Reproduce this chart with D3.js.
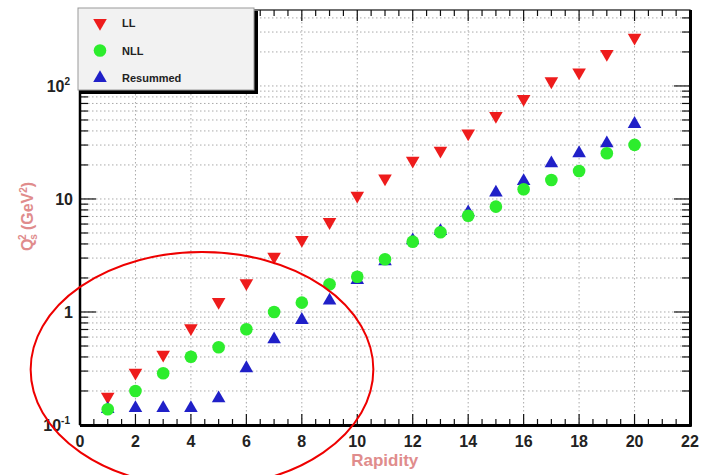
<!DOCTYPE html>
<html>
<head>
<meta charset="utf-8">
<script src="https://cdn.jsdelivr.net/npm/d3@7"></script>
<style>
  html, body { margin: 0; padding: 0; background: #fff; }
  svg { display: block; font-family: "Liberation Sans", Arial, sans-serif; }
</style>
</head>
<body>
<div id="chart"></div>
<script>
// rapidity values
const rapidity = [1, 2, 3, 4, 5, 6, 7, 8, 9, 10, 11, 12, 13, 14, 15, 16, 17, 18, 19, 20];

// Q_s^2 (GeV^2) per series
const llValues = [0.178, 0.29, 0.42, 0.72, 1.23, 1.8, 3.08, 4.35, 6.25, 10.7, 15.2, 21.8, 26.8, 38.1, 54.3, 76.7, 110, 132, 192, 267];
const nllValues = [0.138, 0.2, 0.287, 0.402, 0.487, 0.703, 1.0, 1.21, 1.76, 2.05, 2.93, 4.19, 5.07, 7.11, 8.55, 12.2, 14.7, 17.7, 25.4, 30.1];
const resummedValues = [0.138, 0.141, 0.141, 0.141, 0.172, 0.318, 0.573, 0.85, 1.26, 1.92, 2.8, 4.3, 5.2, 7.6, 11.4, 14.4, 20.7, 25.4, 31.1, 46.1];

const xTicks = [0, 2, 4, 6, 8, 10, 12, 14, 16, 18, 20, 22];
const yLabels = [
  { v: 0.1, base: '10', exp: '-1' },
  { v: 1, base: '1', exp: '' },
  { v: 10, base: '10', exp: '' },
  { v: 100, base: '10', exp: '2' }
];

const seriesNames = ['LL', 'NLL', 'Resummed'];

const width = 711, height = 475;
const margin = { top: 10, right: 21, bottom: 50, left: 80 };
const innerW = width - margin.left - margin.right;
const innerH = height - margin.top - margin.bottom;

const x = d3.scaleLinear().domain([0, 22]).range([margin.left, margin.left + innerW]);
const y = d3.scaleLog().domain([0.1, 470]).range([margin.top + innerH, margin.top]);

const svg = d3.select('#chart').append('svg')
  .attr('width', width)
  .attr('height', height);

// grid
const gridX = d3.range(2, 22, 2);
const gridY = [];
for (let p = -1; p <= 2; p++) {
  for (let m = 1; m <= 9; m++) {
    const v = m * Math.pow(10, p);
    if (v > 0.1 && v < 470) gridY.push(v);
  }
}

svg.append('g').selectAll('line')
  .data(gridX)
  .enter().append('line')
  .attr('x1', d => x(d)).attr('x2', d => x(d))
  .attr('y1', margin.top).attr('y2', margin.top + innerH)
  .attr('stroke', '#aaa').attr('stroke-width', 1).attr('stroke-dasharray', '1.5,2.5');

svg.append('g').selectAll('line')
  .data(gridY)
  .enter().append('line')
  .attr('x1', margin.left).attr('x2', margin.left + innerW)
  .attr('y1', d => y(d)).attr('y2', d => y(d))
  .attr('stroke', '#aaa').attr('stroke-width', 1).attr('stroke-dasharray', '1.5,2.5');

// ticks (inside the frame, all four sides)
const minorX = d3.range(0, 22.01, 0.5);
const ticks = svg.append('g').attr('stroke', '#111').attr('stroke-width', 1.2);
minorX.forEach(v => {
  const len = (v % 2 === 0) ? 11 : 6;
  ticks.append('line').attr('x1', x(v)).attr('x2', x(v))
    .attr('y1', y(0.1)).attr('y2', y(0.1) - len);
  ticks.append('line').attr('x1', x(v)).attr('x2', x(v))
    .attr('y1', margin.top).attr('y2', margin.top + len);
});
const decades = [0.1, 1, 10, 100];
const allY = decades.concat(gridY.filter(v => !decades.includes(v)));
allY.forEach(v => {
  const len = decades.includes(v) ? 16 : 8;
  ticks.append('line').attr('x1', x(0)).attr('x2', x(0) + len)
    .attr('y1', y(v)).attr('y2', y(v));
  ticks.append('line').attr('x1', x(22)).attr('x2', x(22) - len)
    .attr('y1', y(v)).attr('y2', y(v));
});

// frame
svg.append('rect')
  .attr('x', margin.left).attr('y', margin.top)
  .attr('width', innerW).attr('height', innerH)
  .attr('fill', 'none').attr('stroke', '#111').attr('stroke-width', 1.2);
svg.append('line').attr('x1', margin.left).attr('x2', margin.left + innerW + 1.5)
  .attr('y1', margin.top + innerH + 0.5).attr('y2', margin.top + innerH + 0.5)
  .attr('stroke', '#000').attr('stroke-width', 3);
svg.append('line').attr('x1', margin.left + innerW + 0.5).attr('x2', margin.left + innerW + 0.5)
  .attr('y1', margin.top).attr('y2', margin.top + innerH + 1.5)
  .attr('stroke', '#000').attr('stroke-width', 3);
svg.append('line').attr('x1', margin.left).attr('x2', margin.left)
  .attr('y1', margin.top).attr('y2', margin.top + innerH)
  .attr('stroke', '#000').attr('stroke-width', 2.5);

// axis labels
svg.append('g').selectAll('text')
  .data(xTicks)
  .enter().append('text')
  .attr('x', d => x(d)).attr('y', y(0.1) + 22)
  .attr('text-anchor', 'middle')
  .attr('font-size', 16).attr('font-weight', 'bold').attr('fill', '#222')
  .text(d => d);

const yl = svg.append('g').selectAll('text')
  .data(yLabels)
  .enter().append('text')
  .attr('x', d => d.exp ? x(0) - 10 : x(0) - 7)
  .attr('y', d => y(d.v) + 6)
  .attr('text-anchor', 'end')
  .attr('font-size', 16).attr('font-weight', 'bold').attr('fill', '#222');
yl.append('tspan').text(d => d.base);
yl.append('tspan').attr('dy', -7).attr('font-size', 10).text(d => d.exp);

svg.append('text')
  .attr('x', x(12.2)).attr('y', y(0.1) + 41)
  .attr('text-anchor', 'end')
  .attr('font-size', 17).attr('font-weight', 'bold').attr('fill', '#e08c8c')
  .text('Rapidity');

const yt = svg.append('text')
  .attr('transform', `translate(33, ${y(7)}) rotate(-90)`)
  .attr('text-anchor', 'middle')
  .attr('font-size', 16).attr('font-weight', 'bold').attr('fill', '#e08c8c');
yt.append('tspan').text('Q');
yt.append('tspan').attr('font-size', 10).attr('dy', 4).attr('dx', -1).text('s');
yt.append('tspan').attr('font-size', 10).attr('dy', -11).attr('dx', -6).text('2');
yt.append('tspan').attr('dy', 7).text(' (GeV');
yt.append('tspan').attr('font-size', 10).attr('dy', -6).text('2');
yt.append('tspan').attr('dy', 6).text(')');

// markers
const triDown = d3.symbol().type(d3.symbolTriangle).size(80);
const circle = d3.symbol().type(d3.symbolCircle).size(125);

const colors = { LL: '#ee1c1c', NLL: '#2ded2d', Resummed: '#2020c8' };

const llData = rapidity.map((r, i) => ({ r, v: llValues[i] }));
const nllData = rapidity.map((r, i) => ({ r, v: nllValues[i] }));
const resData = rapidity.map((r, i) => ({ r, v: resummedValues[i] }));

svg.append('g').selectAll('path')
  .data(llData).enter().append('path')
  .attr('d', triDown)
  .attr('transform', d => `translate(${x(d.r)},${y(d.v)}) rotate(180)`)
  .attr('fill', colors.LL);

svg.append('g').selectAll('path')
  .data(resData).enter().append('path')
  .attr('d', triDown)
  .attr('transform', d => `translate(${x(d.r)},${y(d.v)})`)
  .attr('fill', colors.Resummed);

svg.append('g').selectAll('path')
  .data(nllData).enter().append('path')
  .attr('d', circle)
  .attr('transform', d => `translate(${x(d.r)},${y(d.v)})`)
  .attr('fill', colors.NLL);

// legend
const leg = svg.append('g');
leg.append('rect').attr('x', 81).attr('y', 11).attr('width', 177).attr('height', 83).attr('fill', '#000');
leg.append('rect').attr('x', 78).attr('y', 8).attr('width', 176).attr('height', 82)
  .attr('fill', '#f2f2f2').attr('stroke', '#999').attr('stroke-width', 1);
const legItems = seriesNames.map((name, i) => ({ name, i }));
legItems.forEach(d => {
  const cy = 23 + d.i * 27.5;
  const sym = d.name === 'NLL' ? circle : triDown;
  leg.append('path').attr('d', sym)
    .attr('transform', `translate(100,${cy}) ${d.name === 'LL' ? 'rotate(180)' : ''}`)
    .attr('fill', colors[d.name]);
  leg.append('text').attr('x', 122).attr('y', cy + 4)
    .attr('font-size', 11).attr('font-weight', 'bold').attr('fill', '#222')
    .text(d.name);
});

// red annotation ellipse around the low-rapidity region
const ellCenter = { r: 4.4, v: 0.31 };
const ellTop = 3.4;
svg.append('ellipse')
  .attr('cx', x(ellCenter.r))
  .attr('cy', y(ellCenter.v))
  .attr('rx', x(6.18) - x(0))
  .attr('ry', y(ellCenter.v) - y(ellTop))
  .attr('fill', 'none').attr('stroke', '#ee0000').attr('stroke-width', 2);
</script>
</body>
</html>
